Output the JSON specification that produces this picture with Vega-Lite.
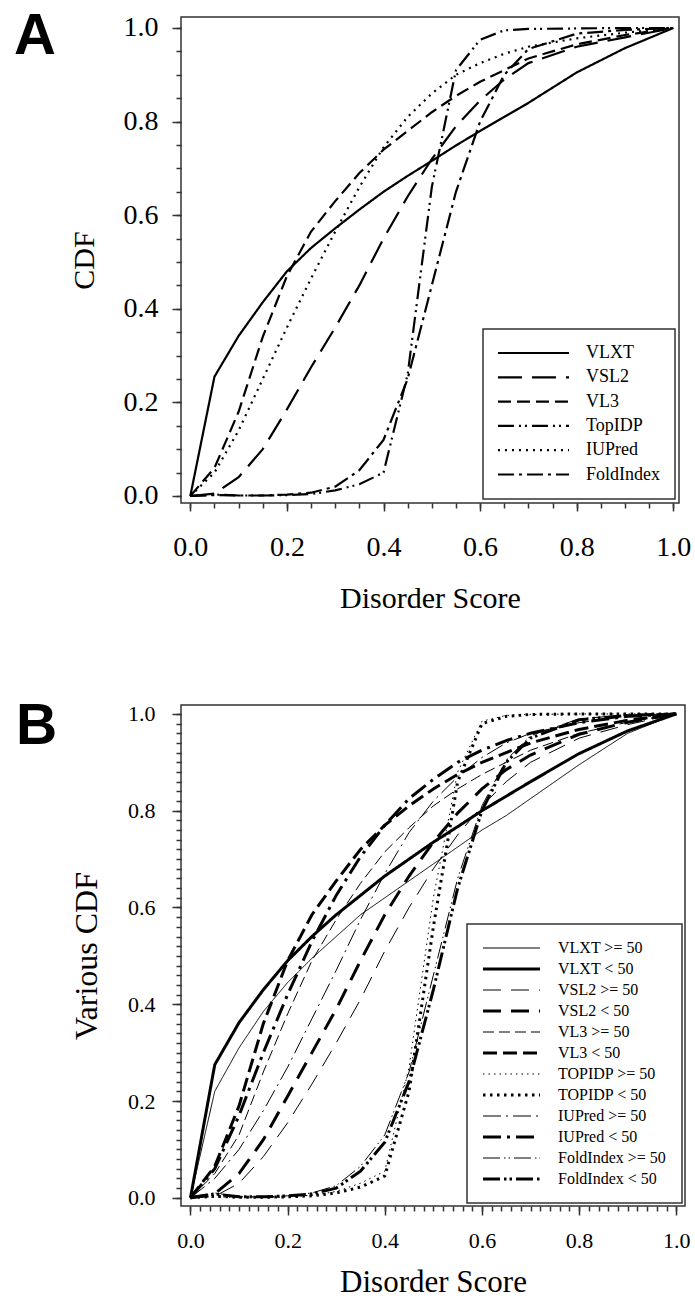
{
"$schema":"https://vega.github.io/schema/vega-lite/v6.json",
"background":"white",
"padding":{"left":13,"top":7,"right":0,"bottom":0},
"spacing":83,
"resolve":{"scale":{"strokeDash":"independent","strokeWidth":"independent","x":"independent","y":"independent"},"legend":{"strokeDash":"independent","strokeWidth":"independent"}},
"config":{
 "font":"Liberation Serif",
 "view":{"stroke":"#333","strokeWidth":1.5},
 "axis":{"labelFont":"Liberation Serif","titleFont":"Liberation Serif","labelColor":"#000","titleColor":"#000","titleFontWeight":"normal","tickColor":"#333","tickWidth":1.5,"domain":false,"grid":false,"labelFlush":false,"labelOverlap":false},
 "legend":{"labelFont":"Liberation Serif","labelColor":"#000","strokeWidth":1.5},
 "title":{"font":"Liberation Sans","fontWeight":"bold","color":"#000"}
},
"datasets":{
"a":[
{"m":"VLXT","x":0,"y":0},{"m":"VLXT","x":0.05,"y":0.255},{"m":"VLXT","x":0.1,"y":0.342},{"m":"VLXT","x":0.15,"y":0.414},{"m":"VLXT","x":0.2,"y":0.48},{"m":"VLXT","x":0.25,"y":0.53},{"m":"VLXT","x":0.3,"y":0.572},{"m":"VLXT","x":0.35,"y":0.612},{"m":"VLXT","x":0.4,"y":0.65},{"m":"VLXT","x":0.45,"y":0.684},{"m":"VLXT","x":0.5,"y":0.716},{"m":"VLXT","x":0.55,"y":0.749},{"m":"VLXT","x":0.6,"y":0.78},{"m":"VLXT","x":0.65,"y":0.81},{"m":"VLXT","x":0.7,"y":0.84},{"m":"VLXT","x":0.8,"y":0.905},{"m":"VLXT","x":0.9,"y":0.957},{"m":"VLXT","x":1,"y":1},
{"m":"VSL2","x":0,"y":0},{"m":"VSL2","x":0.05,"y":0.005},{"m":"VSL2","x":0.1,"y":0.04},{"m":"VSL2","x":0.15,"y":0.1},{"m":"VSL2","x":0.2,"y":0.185},{"m":"VSL2","x":0.25,"y":0.275},{"m":"VSL2","x":0.3,"y":0.36},{"m":"VSL2","x":0.35,"y":0.45},{"m":"VSL2","x":0.4,"y":0.55},{"m":"VSL2","x":0.45,"y":0.64},{"m":"VSL2","x":0.5,"y":0.72},{"m":"VSL2","x":0.55,"y":0.79},{"m":"VSL2","x":0.6,"y":0.845},{"m":"VSL2","x":0.65,"y":0.89},{"m":"VSL2","x":0.7,"y":0.925},{"m":"VSL2","x":0.8,"y":0.96},{"m":"VSL2","x":0.9,"y":0.98},{"m":"VSL2","x":1,"y":1},
{"m":"VL3","x":0,"y":0},{"m":"VL3","x":0.05,"y":0.06},{"m":"VL3","x":0.1,"y":0.18},{"m":"VL3","x":0.15,"y":0.34},{"m":"VL3","x":0.2,"y":0.47},{"m":"VL3","x":0.25,"y":0.565},{"m":"VL3","x":0.3,"y":0.63},{"m":"VL3","x":0.35,"y":0.69},{"m":"VL3","x":0.4,"y":0.74},{"m":"VL3","x":0.45,"y":0.78},{"m":"VL3","x":0.5,"y":0.82},{"m":"VL3","x":0.55,"y":0.855},{"m":"VL3","x":0.6,"y":0.885},{"m":"VL3","x":0.65,"y":0.91},{"m":"VL3","x":0.7,"y":0.935},{"m":"VL3","x":0.8,"y":0.965},{"m":"VL3","x":0.9,"y":0.985},{"m":"VL3","x":1,"y":1},
{"m":"TopIDP","x":0,"y":0},{"m":"TopIDP","x":0.05,"y":0.003},{"m":"TopIDP","x":0.1,"y":0.001},{"m":"TopIDP","x":0.15,"y":0.001},{"m":"TopIDP","x":0.2,"y":0.002},{"m":"TopIDP","x":0.25,"y":0.004},{"m":"TopIDP","x":0.3,"y":0.012},{"m":"TopIDP","x":0.35,"y":0.025},{"m":"TopIDP","x":0.4,"y":0.05},{"m":"TopIDP","x":0.45,"y":0.26},{"m":"TopIDP","x":0.5,"y":0.66},{"m":"TopIDP","x":0.55,"y":0.91},{"m":"TopIDP","x":0.6,"y":0.975},{"m":"TopIDP","x":0.65,"y":0.995},{"m":"TopIDP","x":0.7,"y":0.998},{"m":"TopIDP","x":0.8,"y":0.999},{"m":"TopIDP","x":0.9,"y":1},{"m":"TopIDP","x":1,"y":1},
{"m":"IUPred","x":0,"y":0},{"m":"IUPred","x":0.05,"y":0.05},{"m":"IUPred","x":0.1,"y":0.14},{"m":"IUPred","x":0.15,"y":0.25},{"m":"IUPred","x":0.2,"y":0.36},{"m":"IUPred","x":0.25,"y":0.465},{"m":"IUPred","x":0.3,"y":0.565},{"m":"IUPred","x":0.35,"y":0.66},{"m":"IUPred","x":0.4,"y":0.745},{"m":"IUPred","x":0.45,"y":0.81},{"m":"IUPred","x":0.5,"y":0.86},{"m":"IUPred","x":0.55,"y":0.9},{"m":"IUPred","x":0.6,"y":0.925},{"m":"IUPred","x":0.65,"y":0.945},{"m":"IUPred","x":0.7,"y":0.96},{"m":"IUPred","x":0.8,"y":0.978},{"m":"IUPred","x":0.9,"y":0.99},{"m":"IUPred","x":1,"y":1},
{"m":"FoldIndex","x":0,"y":0},{"m":"FoldIndex","x":0.05,"y":0.002},{"m":"FoldIndex","x":0.1,"y":0.001},{"m":"FoldIndex","x":0.15,"y":0.001},{"m":"FoldIndex","x":0.2,"y":0.003},{"m":"FoldIndex","x":0.25,"y":0.007},{"m":"FoldIndex","x":0.3,"y":0.02},{"m":"FoldIndex","x":0.35,"y":0.055},{"m":"FoldIndex","x":0.4,"y":0.12},{"m":"FoldIndex","x":0.45,"y":0.25},{"m":"FoldIndex","x":0.5,"y":0.45},{"m":"FoldIndex","x":0.55,"y":0.65},{"m":"FoldIndex","x":0.6,"y":0.8},{"m":"FoldIndex","x":0.65,"y":0.9},{"m":"FoldIndex","x":0.7,"y":0.955},{"m":"FoldIndex","x":0.8,"y":0.988},{"m":"FoldIndex","x":0.9,"y":0.996},{"m":"FoldIndex","x":1,"y":1}
],
"b":[
{"m":"VLXT >= 50","x":0,"y":0},{"m":"VLXT >= 50","x":0.05,"y":0.22},{"m":"VLXT >= 50","x":0.1,"y":0.31},{"m":"VLXT >= 50","x":0.15,"y":0.385},{"m":"VLXT >= 50","x":0.2,"y":0.445},{"m":"VLXT >= 50","x":0.25,"y":0.495},{"m":"VLXT >= 50","x":0.3,"y":0.54},{"m":"VLXT >= 50","x":0.35,"y":0.585},{"m":"VLXT >= 50","x":0.4,"y":0.62},{"m":"VLXT >= 50","x":0.45,"y":0.655},{"m":"VLXT >= 50","x":0.5,"y":0.69},{"m":"VLXT >= 50","x":0.55,"y":0.725},{"m":"VLXT >= 50","x":0.6,"y":0.76},{"m":"VLXT >= 50","x":0.65,"y":0.79},{"m":"VLXT >= 50","x":0.7,"y":0.825},{"m":"VLXT >= 50","x":0.8,"y":0.895},{"m":"VLXT >= 50","x":0.9,"y":0.96},{"m":"VLXT >= 50","x":1,"y":1},
{"m":"VLXT < 50","x":0,"y":0},{"m":"VLXT < 50","x":0.05,"y":0.275},{"m":"VLXT < 50","x":0.1,"y":0.362},{"m":"VLXT < 50","x":0.15,"y":0.43},{"m":"VLXT < 50","x":0.2,"y":0.49},{"m":"VLXT < 50","x":0.25,"y":0.54},{"m":"VLXT < 50","x":0.3,"y":0.585},{"m":"VLXT < 50","x":0.35,"y":0.625},{"m":"VLXT < 50","x":0.4,"y":0.665},{"m":"VLXT < 50","x":0.45,"y":0.7},{"m":"VLXT < 50","x":0.5,"y":0.735},{"m":"VLXT < 50","x":0.55,"y":0.767},{"m":"VLXT < 50","x":0.6,"y":0.8},{"m":"VLXT < 50","x":0.65,"y":0.83},{"m":"VLXT < 50","x":0.7,"y":0.86},{"m":"VLXT < 50","x":0.8,"y":0.918},{"m":"VLXT < 50","x":0.9,"y":0.965},{"m":"VLXT < 50","x":1,"y":1},
{"m":"VSL2 >= 50","x":0,"y":0},{"m":"VSL2 >= 50","x":0.05,"y":0.003},{"m":"VSL2 >= 50","x":0.1,"y":0.03},{"m":"VSL2 >= 50","x":0.15,"y":0.085},{"m":"VSL2 >= 50","x":0.2,"y":0.155},{"m":"VSL2 >= 50","x":0.25,"y":0.235},{"m":"VSL2 >= 50","x":0.3,"y":0.32},{"m":"VSL2 >= 50","x":0.35,"y":0.41},{"m":"VSL2 >= 50","x":0.4,"y":0.51},{"m":"VSL2 >= 50","x":0.45,"y":0.6},{"m":"VSL2 >= 50","x":0.5,"y":0.68},{"m":"VSL2 >= 50","x":0.55,"y":0.75},{"m":"VSL2 >= 50","x":0.6,"y":0.81},{"m":"VSL2 >= 50","x":0.65,"y":0.86},{"m":"VSL2 >= 50","x":0.7,"y":0.9},{"m":"VSL2 >= 50","x":0.8,"y":0.95},{"m":"VSL2 >= 50","x":0.9,"y":0.978},{"m":"VSL2 >= 50","x":1,"y":1},
{"m":"VSL2 < 50","x":0,"y":0},{"m":"VSL2 < 50","x":0.05,"y":0.008},{"m":"VSL2 < 50","x":0.1,"y":0.05},{"m":"VSL2 < 50","x":0.15,"y":0.12},{"m":"VSL2 < 50","x":0.2,"y":0.21},{"m":"VSL2 < 50","x":0.25,"y":0.3},{"m":"VSL2 < 50","x":0.3,"y":0.39},{"m":"VSL2 < 50","x":0.35,"y":0.49},{"m":"VSL2 < 50","x":0.4,"y":0.585},{"m":"VSL2 < 50","x":0.45,"y":0.665},{"m":"VSL2 < 50","x":0.5,"y":0.735},{"m":"VSL2 < 50","x":0.55,"y":0.795},{"m":"VSL2 < 50","x":0.6,"y":0.845},{"m":"VSL2 < 50","x":0.65,"y":0.885},{"m":"VSL2 < 50","x":0.7,"y":0.915},{"m":"VSL2 < 50","x":0.8,"y":0.958},{"m":"VSL2 < 50","x":0.9,"y":0.983},{"m":"VSL2 < 50","x":1,"y":1},
{"m":"VL3 >= 50","x":0,"y":0},{"m":"VL3 >= 50","x":0.05,"y":0.05},{"m":"VL3 >= 50","x":0.1,"y":0.13},{"m":"VL3 >= 50","x":0.15,"y":0.26},{"m":"VL3 >= 50","x":0.2,"y":0.38},{"m":"VL3 >= 50","x":0.25,"y":0.49},{"m":"VL3 >= 50","x":0.3,"y":0.575},{"m":"VL3 >= 50","x":0.35,"y":0.65},{"m":"VL3 >= 50","x":0.4,"y":0.715},{"m":"VL3 >= 50","x":0.45,"y":0.765},{"m":"VL3 >= 50","x":0.5,"y":0.81},{"m":"VL3 >= 50","x":0.55,"y":0.845},{"m":"VL3 >= 50","x":0.6,"y":0.875},{"m":"VL3 >= 50","x":0.65,"y":0.9},{"m":"VL3 >= 50","x":0.7,"y":0.925},{"m":"VL3 >= 50","x":0.8,"y":0.96},{"m":"VL3 >= 50","x":0.9,"y":0.983},{"m":"VL3 >= 50","x":1,"y":1},
{"m":"VL3 < 50","x":0,"y":0},{"m":"VL3 < 50","x":0.05,"y":0.065},{"m":"VL3 < 50","x":0.1,"y":0.19},{"m":"VL3 < 50","x":0.15,"y":0.36},{"m":"VL3 < 50","x":0.2,"y":0.49},{"m":"VL3 < 50","x":0.25,"y":0.585},{"m":"VL3 < 50","x":0.3,"y":0.655},{"m":"VL3 < 50","x":0.35,"y":0.72},{"m":"VL3 < 50","x":0.4,"y":0.77},{"m":"VL3 < 50","x":0.45,"y":0.81},{"m":"VL3 < 50","x":0.5,"y":0.845},{"m":"VL3 < 50","x":0.55,"y":0.875},{"m":"VL3 < 50","x":0.6,"y":0.9},{"m":"VL3 < 50","x":0.65,"y":0.92},{"m":"VL3 < 50","x":0.7,"y":0.94},{"m":"VL3 < 50","x":0.8,"y":0.968},{"m":"VL3 < 50","x":0.9,"y":0.987},{"m":"VL3 < 50","x":1,"y":1},
{"m":"TOPIDP >= 50","x":0,"y":0},{"m":"TOPIDP >= 50","x":0.05,"y":0.002},{"m":"TOPIDP >= 50","x":0.1,"y":0.001},{"m":"TOPIDP >= 50","x":0.15,"y":0.001},{"m":"TOPIDP >= 50","x":0.2,"y":0.002},{"m":"TOPIDP >= 50","x":0.25,"y":0.005},{"m":"TOPIDP >= 50","x":0.3,"y":0.013},{"m":"TOPIDP >= 50","x":0.35,"y":0.03},{"m":"TOPIDP >= 50","x":0.4,"y":0.055},{"m":"TOPIDP >= 50","x":0.45,"y":0.27},{"m":"TOPIDP >= 50","x":0.5,"y":0.62},{"m":"TOPIDP >= 50","x":0.55,"y":0.88},{"m":"TOPIDP >= 50","x":0.6,"y":0.985},{"m":"TOPIDP >= 50","x":0.65,"y":0.997},{"m":"TOPIDP >= 50","x":0.7,"y":0.999},{"m":"TOPIDP >= 50","x":0.8,"y":1},{"m":"TOPIDP >= 50","x":0.9,"y":1},{"m":"TOPIDP >= 50","x":1,"y":1},
{"m":"TOPIDP < 50","x":0,"y":0},{"m":"TOPIDP < 50","x":0.05,"y":0.003},{"m":"TOPIDP < 50","x":0.1,"y":0.001},{"m":"TOPIDP < 50","x":0.15,"y":0.001},{"m":"TOPIDP < 50","x":0.2,"y":0.002},{"m":"TOPIDP < 50","x":0.25,"y":0.004},{"m":"TOPIDP < 50","x":0.3,"y":0.01},{"m":"TOPIDP < 50","x":0.35,"y":0.022},{"m":"TOPIDP < 50","x":0.4,"y":0.045},{"m":"TOPIDP < 50","x":0.45,"y":0.22},{"m":"TOPIDP < 50","x":0.5,"y":0.56},{"m":"TOPIDP < 50","x":0.55,"y":0.86},{"m":"TOPIDP < 50","x":0.6,"y":0.98},{"m":"TOPIDP < 50","x":0.65,"y":0.995},{"m":"TOPIDP < 50","x":0.7,"y":0.999},{"m":"TOPIDP < 50","x":0.8,"y":1},{"m":"TOPIDP < 50","x":0.9,"y":1},{"m":"TOPIDP < 50","x":1,"y":1},
{"m":"IUPred >= 50","x":0,"y":0},{"m":"IUPred >= 50","x":0.05,"y":0.04},{"m":"IUPred >= 50","x":0.1,"y":0.1},{"m":"IUPred >= 50","x":0.15,"y":0.18},{"m":"IUPred >= 50","x":0.2,"y":0.27},{"m":"IUPred >= 50","x":0.25,"y":0.37},{"m":"IUPred >= 50","x":0.3,"y":0.47},{"m":"IUPred >= 50","x":0.35,"y":0.575},{"m":"IUPred >= 50","x":0.4,"y":0.67},{"m":"IUPred >= 50","x":0.45,"y":0.755},{"m":"IUPred >= 50","x":0.5,"y":0.82},{"m":"IUPred >= 50","x":0.55,"y":0.87},{"m":"IUPred >= 50","x":0.6,"y":0.91},{"m":"IUPred >= 50","x":0.65,"y":0.94},{"m":"IUPred >= 50","x":0.7,"y":0.96},{"m":"IUPred >= 50","x":0.8,"y":0.982},{"m":"IUPred >= 50","x":0.9,"y":0.995},{"m":"IUPred >= 50","x":1,"y":1},
{"m":"IUPred < 50","x":0,"y":0},{"m":"IUPred < 50","x":0.05,"y":0.06},{"m":"IUPred < 50","x":0.1,"y":0.17},{"m":"IUPred < 50","x":0.15,"y":0.3},{"m":"IUPred < 50","x":0.2,"y":0.42},{"m":"IUPred < 50","x":0.25,"y":0.53},{"m":"IUPred < 50","x":0.3,"y":0.625},{"m":"IUPred < 50","x":0.35,"y":0.705},{"m":"IUPred < 50","x":0.4,"y":0.77},{"m":"IUPred < 50","x":0.45,"y":0.825},{"m":"IUPred < 50","x":0.5,"y":0.865},{"m":"IUPred < 50","x":0.55,"y":0.9},{"m":"IUPred < 50","x":0.6,"y":0.925},{"m":"IUPred < 50","x":0.65,"y":0.945},{"m":"IUPred < 50","x":0.7,"y":0.96},{"m":"IUPred < 50","x":0.8,"y":0.982},{"m":"IUPred < 50","x":0.9,"y":0.995},{"m":"IUPred < 50","x":1,"y":1},
{"m":"FoldIndex >= 50","x":0,"y":0},{"m":"FoldIndex >= 50","x":0.05,"y":0.01},{"m":"FoldIndex >= 50","x":0.1,"y":0.002},{"m":"FoldIndex >= 50","x":0.15,"y":0.002},{"m":"FoldIndex >= 50","x":0.2,"y":0.004},{"m":"FoldIndex >= 50","x":0.25,"y":0.01},{"m":"FoldIndex >= 50","x":0.3,"y":0.025},{"m":"FoldIndex >= 50","x":0.35,"y":0.065},{"m":"FoldIndex >= 50","x":0.4,"y":0.13},{"m":"FoldIndex >= 50","x":0.45,"y":0.26},{"m":"FoldIndex >= 50","x":0.5,"y":0.46},{"m":"FoldIndex >= 50","x":0.55,"y":0.66},{"m":"FoldIndex >= 50","x":0.6,"y":0.81},{"m":"FoldIndex >= 50","x":0.65,"y":0.905},{"m":"FoldIndex >= 50","x":0.7,"y":0.955},{"m":"FoldIndex >= 50","x":0.8,"y":0.99},{"m":"FoldIndex >= 50","x":0.9,"y":0.998},{"m":"FoldIndex >= 50","x":1,"y":1},
{"m":"FoldIndex < 50","x":0,"y":0},{"m":"FoldIndex < 50","x":0.05,"y":0.008},{"m":"FoldIndex < 50","x":0.1,"y":0.002},{"m":"FoldIndex < 50","x":0.15,"y":0.002},{"m":"FoldIndex < 50","x":0.2,"y":0.004},{"m":"FoldIndex < 50","x":0.25,"y":0.008},{"m":"FoldIndex < 50","x":0.3,"y":0.02},{"m":"FoldIndex < 50","x":0.35,"y":0.055},{"m":"FoldIndex < 50","x":0.4,"y":0.115},{"m":"FoldIndex < 50","x":0.45,"y":0.24},{"m":"FoldIndex < 50","x":0.5,"y":0.43},{"m":"FoldIndex < 50","x":0.55,"y":0.64},{"m":"FoldIndex < 50","x":0.6,"y":0.8},{"m":"FoldIndex < 50","x":0.65,"y":0.9},{"m":"FoldIndex < 50","x":0.7,"y":0.95},{"m":"FoldIndex < 50","x":0.8,"y":0.988},{"m":"FoldIndex < 50","x":0.9,"y":0.997},{"m":"FoldIndex < 50","x":1,"y":1}
]
},
"vconcat":[
{"hconcat":[
{
 "width":498,"height":486,
 "title":{"text":"A","anchor":"start","frame":"group","fontSize":58,"offset":-60,"baseline":"alphabetic","dx":-167,"dy":38},
 "data":{"name":"a"},
 "layer":[
  {"mark":{"type":"line","color":"#000","strokeWidth":2.2},
   "encoding":{
    "x":{"field":"x","type":"quantitative","scale":{"domain":[-0.0193,1.0118],"nice":false,"zero":false},
     "axis":{"values":[0,0.2,0.4,0.6,0.8,1],"format":".1f","labelFontSize":28,"tickSize":8,"labelPadding":22,"title":"Disorder Score","titleFontSize":30,"titlePadding":22}},
    "y":{"field":"y","type":"quantitative","scale":{"domain":[-0.015,1.0235],"nice":false,"zero":false},
     "axis":{"values":[0,0.2,0.4,0.6,0.8,1],"format":".1f","labelFontSize":28,"tickSize":9,"labelPadding":14,"title":"CDF","titleFontSize":30,"titlePadding":24}},
    "strokeDash":{"field":"m","type":"nominal",
     "scale":{"domain":["VLXT","VSL2","VL3","TopIDP","IUPred","FoldIndex"],"range":[[1,0],[24,10],[13,6],[16,5,2,4,2,5],[2,5],[16,5,3,5]]},
     "legend":{"title":null,"orient":"bottom-right","offset":4,"symbolType":"M-5,0H5","symbolSize":202,"symbolStrokeWidth":2.2,"symbolStrokeColor":"#000","symbolOffset":26.5,"labelOffset":43.5,"labelFontSize":18,"rowPadding":6.3,"padding":15,"strokeColor":"#333","fillColor":"white"}}
   }},
  {"mark":{"type":"point","opacity":0},
   "encoding":{
    "x":{"field":"x","type":"quantitative","axis":{"orient":"bottom","values":[0,0.05,0.1,0.15,0.2,0.25,0.3,0.35,0.4,0.45,0.5,0.55,0.6,0.65,0.7,0.75,0.8,0.85,0.9,0.95,1],"labels":false,"tickSize":5,"title":null}},
    "y":{"field":"y","type":"quantitative","axis":{"orient":"left","values":[0,0.05,0.1,0.15,0.2,0.25,0.3,0.35,0.4,0.45,0.5,0.55,0.6,0.65,0.7,0.75,0.8,0.85,0.9,0.95,1],"labels":false,"tickSize":5,"title":null}}
   }}
 ],
 "resolve":{"axis":{"x":"independent","y":"independent"}}
}],
"resolve":{"scale":{"strokeDash":"independent","x":"independent","y":"independent"},"legend":{"strokeDash":"independent"}}
},
{"hconcat":[
{
 "width":504,"height":501,
 "title":{"text":"B","anchor":"start","frame":"group","fontSize":57,"offset":-60,"baseline":"alphabetic","dx":-165,"dy":38},
 "data":{"name":"b"},
 "layer":[
  {"mark":{"type":"line","color":"#000"},
   "encoding":{
    "x":{"field":"x","type":"quantitative","scale":{"domain":[-0.0195,1.018],"nice":false,"zero":false},
     "axis":{"values":[0,0.2,0.4,0.6,0.8,1],"format":".1f","labelFontSize":22,"tickSize":9,"labelPadding":15,"title":"Disorder Score","titleFontSize":31,"titlePadding":16}},
    "y":{"field":"y","type":"quantitative","scale":{"domain":[-0.017,1.0185],"nice":false,"zero":false},
     "axis":{"values":[0,0.2,0.4,0.6,0.8,1],"format":".1f","labelFontSize":22,"tickSize":9,"labelPadding":17,"title":"Various CDF","titleFontSize":32,"titlePadding":24}},
    "strokeDash":{"field":"m","type":"nominal",
     "scale":{"domain":["VLXT >= 50","VLXT < 50","VSL2 >= 50","VSL2 < 50","VL3 >= 50","VL3 < 50","TOPIDP >= 50","TOPIDP < 50","IUPred >= 50","IUPred < 50","FoldIndex >= 50","FoldIndex < 50"],
      "range":[[1,0],[1,0],[18,10],[18,10],[11,5],[14,6],[1.5,4],[2.5,4.5],[18,5,2,5],[18,6,3,6],[17,4,1.5,3,1.5,4],[17,4,2.5,3,2.5,4]]},
     "legend":{"title":null,"orient":"bottom-right","offset":3,"symbolType":"M-5,0H5","symbolSize":130,"symbolStrokeColor":"#000","symbolOffset":20.5,"labelOffset":38.5,"labelFontSize":16,"rowPadding":5,"padding":16,"strokeColor":"#333","fillColor":"white"}},
    "strokeWidth":{"field":"m","type":"nominal",
     "scale":{"type":"ordinal","domain":["VLXT >= 50","VLXT < 50","VSL2 >= 50","VSL2 < 50","VL3 >= 50","VL3 < 50","TOPIDP >= 50","TOPIDP < 50","IUPred >= 50","IUPred < 50","FoldIndex >= 50","FoldIndex < 50"],
      "range":[1,3,1,3,1,3,1,3,1,3,1,3]}}
   }},
  {"mark":{"type":"point","opacity":0},
   "encoding":{
    "x":{"field":"x","type":"quantitative","axis":{"orient":"bottom","values":[0,0.02,0.04,0.06,0.08,0.1,0.12,0.14,0.16,0.18,0.2,0.22,0.24,0.26,0.28,0.3,0.32,0.34,0.36,0.38,0.4,0.42,0.44,0.46,0.48,0.5,0.52,0.54,0.56,0.58,0.6,0.62,0.64,0.66,0.68,0.7,0.72,0.74,0.76,0.78,0.8,0.82,0.84,0.86,0.88,0.9,0.92,0.94,0.96,0.98,1],"labels":false,"tickSize":5,"title":null}},
    "y":{"field":"y","type":"quantitative","axis":{"orient":"left","values":[0,0.02,0.04,0.06,0.08,0.1,0.12,0.14,0.16,0.18,0.2,0.22,0.24,0.26,0.28,0.3,0.32,0.34,0.36,0.38,0.4,0.42,0.44,0.46,0.48,0.5,0.52,0.54,0.56,0.58,0.6,0.62,0.64,0.66,0.68,0.7,0.72,0.74,0.76,0.78,0.8,0.82,0.84,0.86,0.88,0.9,0.92,0.94,0.96,0.98,1],"labels":false,"tickSize":5,"title":null}}
   }}
 ],
 "resolve":{"axis":{"x":"independent","y":"independent"}}
}],
"resolve":{"scale":{"strokeDash":"independent","strokeWidth":"independent","x":"independent","y":"independent"},"legend":{"strokeDash":"independent","strokeWidth":"independent"}}
}
]
}
